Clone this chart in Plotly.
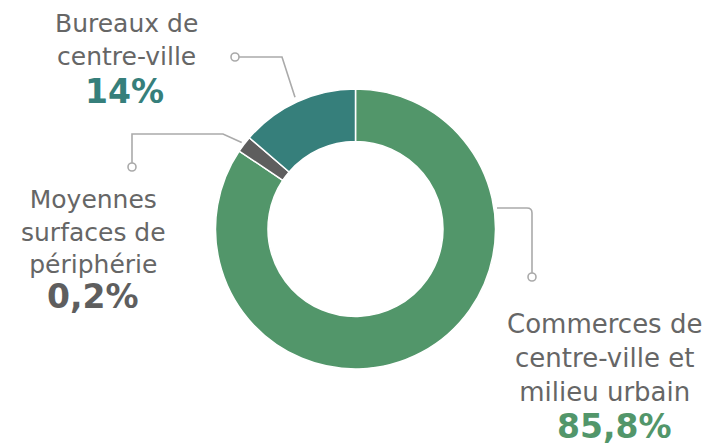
import math
import plotly.graph_objects as go

# Data
categories = ["Bureaux de centre-ville", "Moyennes surfaces de périphérie", "Commerces de centre-ville et milieu urbain"]
label_lines = [["Bureaux de", "centre-ville"], ["Moyennes", "surfaces de", "périphérie"], ["Commerces de", "centre-ville et", "milieu urbain"]]
pct_labels = ["14%", "0,2%", "85,8%"]
slice_values = [13.7, 1.9, 84.4]
colors = ["#367f7b", "#5e5e5e", "#52966a"]

W, H = 709, 445
cx, cy, R = 355.5, 229, 140

# slices run counterclockwise from 12 o'clock: draw clockwise in reversed order
fig = go.Figure()
fig.add_trace(go.Pie(
    labels=categories[::-1], values=slice_values[::-1], sort=False, direction="clockwise",
    rotation=0, hole=0.625, textinfo="none", hoverinfo="label",
    marker=dict(colors=colors[::-1], line=dict(color="white", width=1.5)),
    domain=dict(x=[(cx - R) / W, (cx + R) / W], y=[(H - cy - R) / H, (H - cy + R) / H]),
    showlegend=False,
))

# mid angles (ccw from top) for leader lines
tot = sum(slice_values)
acc = 0
mids = []
for v in slice_values:
    mids.append((acc + v / 2) / tot * 2 * math.pi)
    acc += v

def edge(a, r):
    return cx - r * math.sin(a), cy - r * math.cos(a)

lc = "#aaaaaa"
shapes = []
# Bureaux leader
ex, ey = edge(mids[0], 145)
shapes.append(dict(type="path", path=f"M 235,57 L 282,57 L {ex:.1f},{ey:.1f}", line=dict(color=lc, width=1.6)))
shapes.append(dict(type="circle", x0=231, y0=53, x1=239, y1=61, line=dict(color=lc, width=1.6), fillcolor="white"))
# Moyennes leader
ex, ey = edge(mids[1], 143)
shapes.append(dict(type="path", path=f"M 132,167 L 132,134 L 223,134 L {ex:.1f},{ey:.1f}", line=dict(color=lc, width=1.6)))
shapes.append(dict(type="circle", x0=128, y0=163, x1=136, y1=171, line=dict(color=lc, width=1.6), fillcolor="white"))
# Commerces leader
shapes.append(dict(type="path", path="M 497,208 L 527,208 Q 532,208 532,213 L 532,277", line=dict(color=lc, width=1.6)))
shapes.append(dict(type="circle", x0=528, y0=273, x1=536, y1=281, line=dict(color=lc, width=1.6), fillcolor="white"))
for s in shapes:
    s.update(xref="x", yref="y", layer="below")

lab_font = dict(family="DejaVu Sans", size=25, color="#666666")
annotations = []
label_pos = [(126, 40), (93, 232), (604, 358)]
pct_pos = [(124, 91), (93, 296), (614, 426)]
for i in range(3):
    x, y = label_pos[i]
    fsize = 26 if i == 2 else 25
    annotations.append(dict(x=x, y=y, xref="x", yref="y", text="<br>".join(label_lines[i]),
                            showarrow=False, font=dict(lab_font, size=fsize), xanchor="center", yanchor="middle", align="center"))
    x, y = pct_pos[i]
    annotations.append(dict(x=x, y=y, xref="x", yref="y", text=f"<b>{pct_labels[i]}</b>",
                            showarrow=False, font=dict(family="DejaVu Sans", size=33, color=colors[i]),
                            xanchor="center", yanchor="middle"))

fig.update_layout(
    width=W, height=H, margin=dict(l=0, r=0, t=0, b=0),
    paper_bgcolor="white", plot_bgcolor="rgba(0,0,0,0)",
    xaxis=dict(range=[0, W], visible=False, fixedrange=True),
    yaxis=dict(range=[H, 0], visible=False, fixedrange=True),
    shapes=shapes, annotations=annotations,
)
fig.write_html("out.html", config={"displayModeBar": False},
               post_script="document.body.style.margin='0';document.body.style.overflow='hidden';")
